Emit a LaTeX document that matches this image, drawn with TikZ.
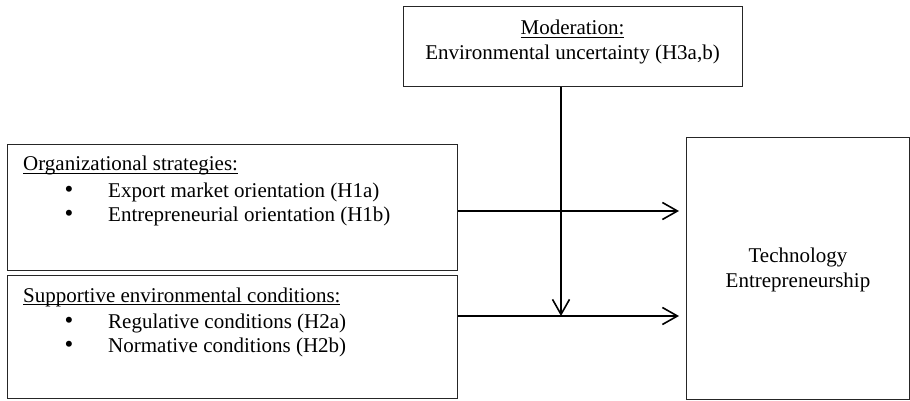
\documentclass[tikz,border=0pt]{standalone}
\usepackage{fontspec}
\setmainfont{Liberation Serif}
\usetikzlibrary{arrows.meta}
\newcommand{\myul}[1]{{\setbox0\hbox{#1}\rlap{\rule[-3pt]{\wd0}{1.1pt}}\box0}}
\begin{document}
\begin{tikzpicture}[x=1pt,y=-1pt,
  box/.style={draw=black!85,line width=1.3pt,inner sep=0pt,anchor=north west},
  txt/.style={inner sep=0pt,font=\fontsize{21}{24.5}\selectfont},
  bul/.style={inner sep=0pt,font=\fontsize{25}{25}\selectfont,anchor=base},
  arr/.style={line width=1.6pt,-{Straight Barb[length=15pt,width=17pt,line width=1.6pt]}}]
\useasboundingbox (0,0) rectangle (910,401);
% boxes
\node[box,minimum width=339pt,minimum height=80pt] (top) at (403,6) {};
\node[box,minimum width=450pt,minimum height=126pt] (b1) at (7,144) {};
\node[box,minimum width=450pt,minimum height=123pt] (b2) at (7,275) {};
\node[box,minimum width=223pt,minimum height=262pt] (te) at (686,137) {};
% top box text
\node[txt,anchor=base] (t1) at (572.5,35) {\myul{Moderation:}};
\node[txt,anchor=base] (t2) at (572.5,60) {Environmental uncertainty (H3a,b)};
% box 1 text
\node[txt,anchor=base west] (o1) at (23,171) {\myul{Organizational strategies:}};
\node[bul] (o2b) at (69,197) {•};
\node[txt,anchor=base west] (o2) at (108,197) {Export market orientation (H1a)};
\node[bul] (o3b) at (69,221) {•};
\node[txt,anchor=base west] (o3) at (108,221) {Entrepreneurial orientation (H1b)};
% box 2 text
\node[txt,anchor=base west] (s1) at (23,302) {\myul{Supportive environmental conditions:}};
\node[bul] (s2b) at (69,328) {•};
\node[txt,anchor=base west] (s2) at (108,328) {Regulative conditions (H2a)};
\node[bul] (s3b) at (69,352) {•};
\node[txt,anchor=base west] (s3) at (108,352) {Normative conditions (H2b)};
% right box text
\node[txt,anchor=base] (e1) at (798,262) {Technology};
\node[txt,anchor=base] (e2) at (798,287) {Entrepreneurship};
% connectors
\coordinate (tip1) at (679,211);
\coordinate (tip2) at (679,316);
\coordinate (tipm) at (561,316);
\draw[arr] (b1.east |- tip1) -- (tip1);
\draw[arr] (b2.east |- tip2) -- (tip2);
\draw[arr] (top.south -| tipm) -- (tipm);
\end{tikzpicture}
\end{document}
